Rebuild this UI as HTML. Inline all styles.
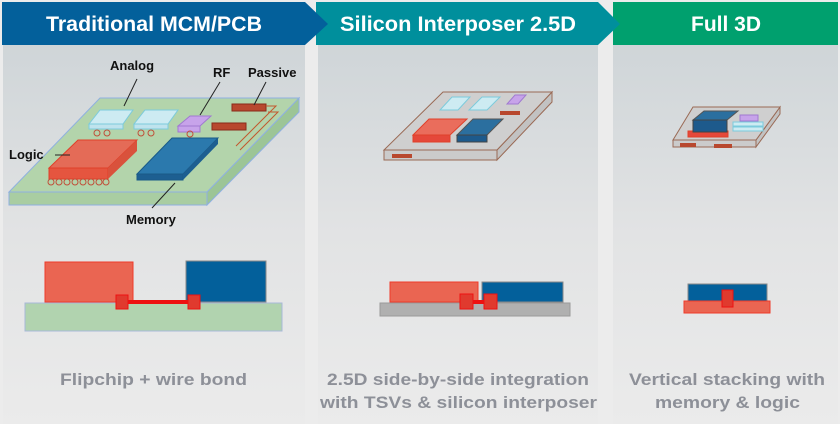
<!DOCTYPE html>
<html><head><meta charset="utf-8"><style>
body{margin:0;width:840px;height:424px;overflow:hidden;background:#ececec;font-family:"Liberation Sans",sans-serif}
</style></head><body>
<svg width="840" height="424" xmlns="http://www.w3.org/2000/svg" style="position:absolute;left:0;top:0">
<defs>
<linearGradient id="g" x1="0" y1="0" x2="0" y2="1">
<stop offset="0" stop-color="#cfd5d8"/><stop offset="0.5" stop-color="#e2e3e4"/><stop offset="1" stop-color="#ebebeb"/>
</linearGradient>
</defs>
<rect x="3" y="44" width="302" height="380" fill="url(#g)"/>
<rect x="318" y="44" width="280" height="380" fill="url(#g)"/>
<rect x="613" y="44" width="225" height="380" fill="url(#g)"/>
<!-- headers -->
<polygon points="613,2 838,2 838,45 613,45" fill="#00a06e"/>
<polygon points="316,2 598,2 620,24 598,45 316,45" fill="#008f9c"/>
<polygon points="2,2 305,2 328,24 305,45 2,45" fill="#03609b"/>
<g font-size="21" font-weight="bold" fill="#fff" lengthAdjust="spacingAndGlyphs">
<text x="46" y="31" textLength="216" lengthAdjust="spacingAndGlyphs">Traditional MCM/PCB</text>
<text x="340" y="31" textLength="236" lengthAdjust="spacingAndGlyphs">Silicon Interposer 2.5D</text>
<text x="691" y="31" textLength="70" lengthAdjust="spacingAndGlyphs">Full 3D</text>
</g>

<!-- Panel 1 board -->
<polygon points="9,192 207,192 207,205 9,205" fill="#a9cda2" stroke="#8fb0e0"/>
<polygon points="207,192 299,98 299,112 207,205" fill="#9cc596" stroke="#8fb0e0"/>
<polygon points="100,98 299,98 207,192 9,192" fill="#b3d4ab" stroke="#8fb0e0"/>
<polygon points="89,124 123,124 133,110 100,110" fill="#cdebf2" stroke="#7ccbdc"/>
<rect x="89" y="124" width="34" height="5" fill="#bfe3ed" stroke="#7ccbdc"/>
<polygon points="134,124 168,124 178,110 145,110" fill="#cdebf2" stroke="#7ccbdc"/>
<rect x="134" y="124" width="34" height="5" fill="#bfe3ed" stroke="#7ccbdc"/>
<polygon points="178,126 200,126 211,116 190,116" fill="#c7a3ea" stroke="#a07ad0"/>
<rect x="178" y="126" width="22" height="6" fill="#c7a3ea" stroke="#a07ad0"/>
<rect x="232" y="104" width="34" height="7" fill="#b8482e" stroke="#8a2a1a"/>
<rect x="212" y="123" width="34" height="7" fill="#b8482e" stroke="#8a2a1a"/>
<path d="M266,106 L276,106 L236,146 M268,112 L278,112 L240,150" stroke="#c2582e" fill="none"/>
<polygon points="49,168 108,168 137,140 78,140" fill="#e46b57" stroke="#e0402a"/>
<rect x="49" y="168" width="59" height="11" fill="#e5553f" stroke="#e0402a"/>
<polygon points="108,168 108,179 137,151 137,140" fill="#d9523c"/>
<g fill="none" stroke="#c0503a"><circle cx="51" cy="182" r="3"/><circle cx="59" cy="182" r="3"/><circle cx="67" cy="182" r="3"/><circle cx="75" cy="182" r="3"/><circle cx="83" cy="182" r="3"/><circle cx="91" cy="182" r="3"/><circle cx="99" cy="182" r="3"/><circle cx="106" cy="182" r="3"/>
<circle cx="97" cy="133" r="3"/><circle cx="107" cy="133" r="3"/><circle cx="141" cy="133" r="3"/><circle cx="151" cy="133" r="3"/><circle cx="190" cy="134" r="3"/></g>
<polygon points="137,174 183,174 218,138 172,138" fill="#2b79ad" stroke="#1a5a88"/>
<rect x="137" y="174" width="46" height="6" fill="#1d5f91" stroke="#1a5a88"/>
<polygon points="183,174 183,180 218,144 218,138" fill="#1d5f91"/>
<g font-size="13" font-weight="bold" fill="#111">
<text x="110" y="70">Analog</text><text x="213" y="77">RF</text><text x="248" y="77">Passive</text>
<text x="9" y="159">Logic</text><text x="126" y="224">Memory</text></g>
<g stroke="#222" stroke-width="1"><line x1="137" y1="79" x2="124" y2="106"/><line x1="220" y1="82" x2="200" y2="115"/><line x1="266" y1="82" x2="254" y2="105"/><line x1="55" y1="155" x2="70" y2="155"/><line x1="175" y1="183" x2="152" y2="208"/></g>

<!-- Panel 2 top -->
<polygon points="384,150 497,150 497,160 384,160" fill="#cbcbcb" stroke="#9a6a55"/>
<polygon points="497,150 552,92 552,102 497,160" fill="#c2c2c2" stroke="#9a6a55"/>
<polygon points="443,92 552,92 497,150 384,150" fill="#cfcfcf" stroke="#9a6a55"/>
<polygon points="440,110 458,110 470,97 452,97" fill="#cdebf2" stroke="#7ccbdc"/>
<polygon points="469,110 487,110 500,97 482,97" fill="#cdebf2" stroke="#7ccbdc"/>
<polygon points="507,104 518,104 526,95 515,95" fill="#c7a3ea" stroke="#a07ad0"/>
<rect x="500" y="111" width="20" height="4" fill="#b8482e"/>
<polygon points="413,135 450,135 467,119 429,119" fill="#ea6d5c" stroke="#e0402a"/>
<rect x="413" y="135" width="37" height="7" fill="#e5483a" stroke="#e0402a"/>
<polygon points="457,135 487,135 503,119 473,119" fill="#2b6f9f" stroke="#555"/>
<rect x="457" y="135" width="30" height="7" fill="#1d5a8c" stroke="#444"/>
<rect x="392" y="154" width="20" height="4" fill="#b8482e"/>
<!-- Panel 3 top -->
<polygon points="673,140 756,140 756,147 673,147" fill="#cbcbcb" stroke="#9a6a55"/>
<polygon points="756,140 780,107 780,114 756,147" fill="#c2c2c2" stroke="#9a6a55"/>
<polygon points="693,107 780,107 756,140 673,140" fill="#cfcfcf" stroke="#9a6a55"/>
<rect x="688" y="131" width="40" height="6" fill="#e5483a" stroke="#e0402a"/>
<polygon points="693,120 727,120 738,111 704,111" fill="#2b6f9f" stroke="#555"/>
<rect x="693" y="120" width="34" height="12" fill="#1d5a8c" stroke="#444"/>
<rect x="733" y="122" width="30" height="4" fill="#cdebf2" stroke="#7ccbdc"/>
<rect x="733" y="127" width="30" height="4" fill="#cdebf2" stroke="#7ccbdc"/>
<rect x="740" y="115" width="18" height="6" fill="#c7a3ea" stroke="#a07ad0"/>
<rect x="680" y="143" width="16" height="4" fill="#b8482e"/><rect x="714" y="144" width="18" height="4" fill="#b8482e"/>

<!-- Panel 1 bottom -->
<rect x="25" y="303" width="257" height="28" fill="#b1d3af" stroke="#a8b8d8"/>
<rect x="45" y="262" width="88" height="40" fill="#ea6552" stroke="#ef3a2a"/>
<rect x="186" y="261" width="80" height="41" fill="#03609b" stroke="#888"/>
<rect x="128" y="300" width="60" height="4" fill="#ee1111"/>
<rect x="116" y="295" width="12" height="14" fill="#e03a2e" stroke="#ee1111"/>
<rect x="188" y="295" width="12" height="14" fill="#e03a2e" stroke="#ee1111"/>
<!-- Panel 2 bottom -->
<rect x="380" y="303" width="190" height="13" fill="#b0b0b0" stroke="#9a9a9a"/>
<rect x="390" y="282" width="88" height="20" fill="#ea6552" stroke="#ef3a2a"/>
<rect x="482" y="282" width="81" height="20" fill="#03609b" stroke="#888"/>
<rect x="472" y="300" width="12" height="4" fill="#ee1111"/>
<rect x="460" y="294" width="13" height="15" fill="#e03a2e" stroke="#ee1111"/>
<rect x="484" y="294" width="13" height="15" fill="#e03a2e" stroke="#ee1111"/>
<!-- Panel 3 bottom -->
<rect x="688" y="284" width="79" height="18" fill="#03609b" stroke="#888"/>
<rect x="684" y="301" width="86" height="12" fill="#ea6552" stroke="#ef3a2a"/>
<rect x="722" y="290" width="11" height="17" fill="#e03a2e" stroke="#ee1111"/>

<!-- captions -->
<g font-size="17" font-weight="bold" fill="#8d9098">
<text x="60" y="385" textLength="187" lengthAdjust="spacingAndGlyphs">Flipchip + wire bond</text>
<text x="327" y="385" textLength="262" lengthAdjust="spacingAndGlyphs">2.5D side-by-side integration</text>
<text x="320" y="408" textLength="277" lengthAdjust="spacingAndGlyphs">with TSVs &amp; silicon interposer</text>
<text x="629" y="385" textLength="196" lengthAdjust="spacingAndGlyphs">Vertical stacking with</text>
<text x="655" y="408" textLength="145" lengthAdjust="spacingAndGlyphs">memory &amp; logic</text>
</g>
</svg>
</body></html>
